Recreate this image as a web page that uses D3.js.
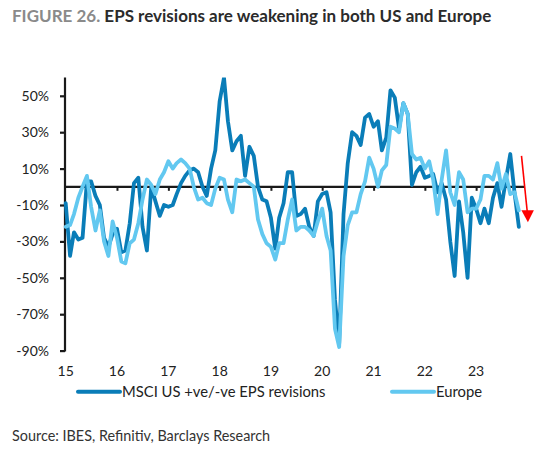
<!DOCTYPE html>
<html>
<head>
<meta charset="utf-8">
<script src="https://cdn.jsdelivr.net/npm/d3@7"></script>
<style>
  html, body { margin: 0; padding: 0; background: #fff; }
  svg { display: block; font-family: Lato, "Open Sans", sans-serif; }
</style>
</head>
<body>
<svg id="chart" width="541" height="460"></svg>
<script>
// ---- Data (monthly, Jan 2015 .. Nov 2023) ----
const startYear = 2015;
const usValues = [
  -9, -38, -25, -29, -28, 3, 3, -5, -10, -28, -33, -26,
  -23, -36, -35, -20, 2, 5, -22, -35, 0, -8, -16, -10,
  -11, -10, -4, 2, 6, 9, 10, 8, 0, -5, 10, 20,
  47, 60, 36, 20, 25, 28, 6, 22, 17, 0, -7, -8,
  -17, -34, -17, -9, 8, 8, -16, -15, -12, -22, -27, -8,
  -4, -3, -14, -62, -86, -15, 13, 30, 28, 23, 38, 40,
  33, 36, 20, 27, 53, 49, 32, 46, 40, 1, 8, 11,
  5, 6, 7, -3, 2, -7, -30, -49, -8, -25, -50, -6,
  -12, -20, -12, -20, -6, 2, -11, 4, 18, -3, -22
];
const europeValues = [
  -22, -21, -15, -6, 0, 6, -11, -24, -13, -30, -38, -19,
  -28, -41, -42, -31, -29, -20, -7, 4, 1, -4, 4, 8,
  14, 10, 13, 15, 13, 10, 0, -7, -6, -9, -10, -1,
  5, 4, -7, -14, 4, 3, 4, 2, 0, -18, -26, -31,
  -33, -40, -31, -31, -18, -7, -24, -22, -22, -24, -27, -19,
  -12, -27, -35, -78, -88, -38, -21, -14, -14, -4, 3, 16,
  10, 0, 9, 12, 33, 32, 30, 46, 40, 18, 15, 16,
  10, 14, 4, -15, 4, 20, -3, -10, 8, 4, -14, -12,
  -12, -7, 6, 6, 4, 13, -1, 7, -4, -3, -13
];
const seriesNames = ["MSCI US +ve/-ve EPS revisions", "Europe"];
const yTickValues = [50, 30, 10, -10, -30, -50, -70, -90];
const xTickLabels = ["15", "16", "17", "18", "19", "20", "21", "22", "23"];

const title1 = "FIGURE 26.";
const title2 = " EPS revisions are weakening in both US and Europe";
const sourceText = "Source: IBES, Refinitiv, Barclays Research";

// ---- Layout ----
const svg = d3.select("#chart");
const colUS = "#0a7db8";
const colEU = "#62c8f0";

const x = d3.scaleTime()
  .domain([new Date(2015, 0, 1), new Date(2024, 0, 1)])
  .range([65.7, 527.4]);
const y = d3.scaleLinear().domain([-90, 60]).range([350.6, 77.6]);

const toSeries = vals => vals.map((v, i) => ({ date: new Date(startYear, i, 1), value: v }));
const usData = toSeries(usValues);
const euData = toSeries(europeValues);

// Title
const t = svg.append("text").attr("x", 12).attr("y", 21.5)
  .attr("font-size", 17).attr("font-weight", 700);
t.append("tspan").attr("fill", "#8a8a8a").text(title1);
t.append("tspan").attr("fill", "#2b2b2b").text(title2);

// Clip
svg.append("clipPath").attr("id", "plotclip")
  .append("rect").attr("x", 60).attr("y", y(60)).attr("width", 480).attr("height", y(-90) - y(60) + 10);

// Y axis
const yAxis = d3.axisLeft(y).tickValues(yTickValues).tickSize(5).tickPadding(11)
  .tickFormat(d => d + "%");
const gy = svg.append("g").attr("transform", "translate(65,0)").call(yAxis);
gy.select(".domain").remove();
gy.selectAll(".tick line").attr("stroke", "#1a1a1a").attr("stroke-width", 2.2);
gy.selectAll(".tick text").attr("font-size", 14).attr("fill", "#222")
  .attr("font-family", "Lato, sans-serif");
svg.append("line").attr("x1", 65).attr("x2", 65).attr("y1", y(60)).attr("y2", y(-90) + 1)
  .attr("stroke", "#1a1a1a").attr("stroke-width", 2.2);

// Zero line with year ticks
const gx = svg.append("g").attr("transform", `translate(0,${y(0)})`)
  .call(d3.axisBottom(x).ticks(d3.timeYear.every(1)).tickSize(4).tickFormat(""));
gx.select(".domain").remove();
gx.selectAll(".tick line").attr("stroke", "#1a1a1a").attr("stroke-width", 2)
  .filter(d => d.getFullYear() === 2015 || d.getFullYear() === 2024).remove();
svg.append("line").attr("x1", 65).attr("x2", 525).attr("y1", y(0)).attr("y2", y(0))
  .attr("stroke", "#1a1a1a").attr("stroke-width", 2.2);

// X labels
svg.append("g").selectAll("text").data(xTickLabels).join("text")
  .attr("x", d => x(new Date(2000 + (+d), 0, 1)))
  .attr("y", 375.5)
  .attr("text-anchor", "middle")
  .attr("font-size", 14).attr("fill", "#222")
  .text(d => d);

// Lines
const line = d3.line().x(d => x(d.date)).y(d => y(d.value)).curve(d3.curveLinear);
const plot = svg.append("g").attr("clip-path", "url(#plotclip)");
plot.append("path").datum(usData).attr("d", line)
  .attr("fill", "none").attr("stroke", colUS).attr("stroke-width", 3.8)
  .attr("stroke-linejoin", "round").attr("stroke-linecap", "round");
plot.append("path").datum(euData).attr("d", line)
  .attr("fill", "none").attr("stroke", colEU).attr("stroke-width", 3.8)
  .attr("stroke-linejoin", "round").attr("stroke-linecap", "round");

// Red arrow
const arrowStart = { date: new Date(2023, 10, 20), value: 17 };
const arrowEnd = { date: new Date(2024, 0, 1), value: -19.5 };
const ax1 = x(arrowStart.date), ay1 = y(arrowStart.value);
const ax2 = x(arrowEnd.date) + 0.5, ay2 = y(arrowEnd.value);
svg.append("line").attr("x1", ax1).attr("y1", ay1).attr("x2", ax2 - 0.6).attr("y2", ay2 - 10)
  .attr("stroke", "#ff0000").attr("stroke-width", 1.6);
svg.append("path")
  .attr("d", `M${ax2},${ay2} L${ax2 - 6.5},${ay2 - 12} L${ax2 + 6},${ay2 - 12} Z`)
  .attr("fill", "#ff0000");

// Legend
const legend = svg.append("g").attr("font-size", 14.8).attr("fill", "#222");
const legItems = [
  { name: seriesNames[0], color: colUS, x0: 78 },
  { name: seriesNames[1], color: colEU, x0: 392 }
];
legItems.forEach(it => {
  legend.append("line").attr("x1", it.x0).attr("x2", it.x0 + 42)
    .attr("y1", 391.7).attr("y2", 391.7)
    .attr("stroke", it.color).attr("stroke-width", 4).attr("stroke-linecap", "round");
  legend.append("text").attr("x", it.x0 + 44).attr("y", 397).text(it.name);
});

// Source
svg.append("text").attr("x", 12).attr("y", 440.5).attr("font-size", 14.4).attr("fill", "#333")
  .text(sourceText);
</script>
</body>
</html>
